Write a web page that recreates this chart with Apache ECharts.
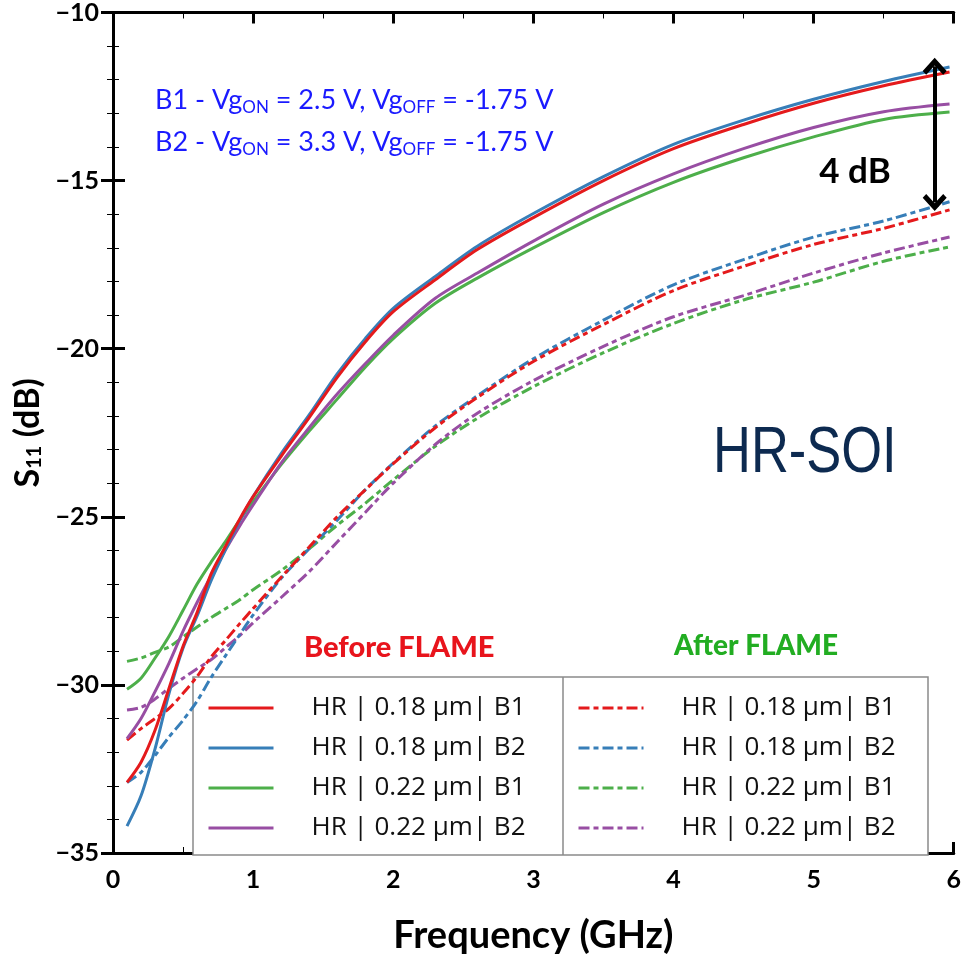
<!DOCTYPE html>
<html>
<head>
<meta charset="utf-8">
<script src="https://cdn.jsdelivr.net/npm/echarts@6/dist/echarts.min.js"></script>
<style>
  html, body { margin: 0; padding: 0; background: #fff; }
  #chart { width: 964px; height: 960px; }
</style>
</head>
<body>
<div id="chart"></div>
<script>
// frequency points (GHz)
var freq = [0.1, 0.2, 0.3, 0.4, 0.5, 0.6, 0.7, 0.8, 0.9, 1.0, 1.2, 1.4, 1.6, 1.8, 2.0, 2.3, 2.6, 3.0, 3.5, 4.0, 4.5, 5.0, 5.5, 5.97];

// S11 (dB), before FLAME (solid)
var before18B1 = [-32.9, -32.3, -31.35, -30.1, -28.85, -27.85, -26.7, -25.9, -25.1, -24.4, -23.2, -22.05, -20.85, -19.8, -18.9, -17.95, -17.05, -16.1, -15.0, -14.05, -13.33, -12.7, -12.18, -11.77];
var before18B2 = [-34.2, -33.3, -31.9, -30.25, -28.9, -27.95, -26.9, -26.0, -25.15, -24.4, -23.12, -21.97, -20.75, -19.7, -18.8, -17.85, -16.95, -15.98, -14.88, -13.92, -13.2, -12.58, -12.05, -11.62];
var before22B1 = [-30.13, -29.8, -29.2, -28.55, -27.78, -27.0, -26.35, -25.75, -25.12, -24.55, -23.45, -22.45, -21.5, -20.55, -19.7, -18.65, -17.9, -17.0, -15.95, -15.05, -14.32, -13.7, -13.18, -12.96];
var before22B2 = [-31.6, -31.0, -30.2, -29.35, -28.4, -27.55, -26.75, -26.0, -25.3, -24.65, -23.4, -22.35, -21.35, -20.45, -19.6, -18.5, -17.75, -16.8, -15.7, -14.8, -14.05, -13.42, -12.95, -12.72];

// S11 (dB), after FLAME (dashed)
var after18B1 = [-31.64, -31.3, -31.0, -30.7, -30.25, -29.75, -29.17, -28.69, -28.2, -27.73, -26.8, -25.9, -25.0, -24.2, -23.42, -22.35, -21.45, -20.38, -19.28, -18.27, -17.55, -16.9, -16.42, -15.87];
var after18B2 = [-32.9, -32.6, -32.1, -31.55, -31.05, -30.48, -29.78, -29.15, -28.53, -27.92, -26.83, -25.95, -25.1, -24.2, -23.4, -22.3, -21.4, -20.3, -19.15, -18.1, -17.35, -16.68, -16.2, -15.63];
var after22B1 = [-29.3, -29.2, -29.03, -28.87, -28.57, -28.28, -28.0, -27.74, -27.48, -27.17, -26.6, -25.95, -25.25, -24.6, -23.9, -22.9, -22.07, -21.13, -20.12, -19.25, -18.55, -18.02, -17.4, -16.97];
var after22B2 = [-30.75, -30.67, -30.42, -30.1, -29.8, -29.52, -29.25, -28.9, -28.55, -28.15, -27.4, -26.63, -25.75, -24.87, -24.0, -22.85, -21.92, -20.95, -19.93, -19.05, -18.42, -17.75, -17.15, -16.68];

var legendLabels = ['HR | 0.18 \u00b5m| B1', 'HR | 0.18 \u00b5m| B2', 'HR | 0.22 \u00b5m| B1', 'HR | 0.22 \u00b5m| B2'];
var beforeNames = ['b18B1', 'b18B2', 'b22B1', 'b22B2'];
var afterNames = ['a18B1', 'a18B2', 'a22B1', 'a22B2'];
var colors = ['#e41a1c', '#377eb8', '#4daf4a', '#984ea3'];

var FONT = 'Lato, "Open Sans", sans-serif';
var LEGEND_FONT = '"Open Sans", Lato, sans-serif';

function pairs(ys) {
    return freq.map(function (f, i) { return [f, ys[i]]; });
}

var labelOf = {};
beforeNames.forEach(function (n, i) { labelOf[n] = legendLabels[i]; });
afterNames.forEach(function (n, i) { labelOf[n] = legendLabels[i]; });

var beforeData = [before18B1, before18B2, before22B1, before22B2];
var afterData = [after18B1, after18B2, after22B1, after22B2];

// draw order: green, purple, blue, red (red on top)
var order = [2, 3, 1, 0];
var series = [];
order.forEach(function (i) {
    series.push({
        name: afterNames[i],
        type: 'line',
        data: pairs(afterData[i]),
        showSymbol: false,
        symbol: 'none',
        smooth: 0.3,
        color: colors[i],
        lineStyle: { width: 3, type: [11, 4, 5, 4] }
    });
});
order.forEach(function (i) {
    series.push({
        name: beforeNames[i],
        type: 'line',
        data: pairs(beforeData[i]),
        showSymbol: false,
        symbol: 'none',
        smooth: 0.3,
        color: colors[i],
        lineStyle: { width: 3 }
    });
});

// double arrow marking the 4 dB gap
var chevron = 'path://M0,0 L12,12 L8.5,15.5 L0,7 L-8.5,15.5 L-12,12 Z';
series[series.length - 1].markLine = {
    silent: true,
    symbol: [chevron, chevron],
    symbolSize: [24, 17],
    label: { show: false },
    lineStyle: { color: '#000', width: 4, type: 'solid' },
    data: [[{ coord: [5.864, -11.6] }, { coord: [5.864, -15.65] }]]
};

var axisLineStyle = { lineStyle: { color: '#000', width: 3 } };

function legendOf(names, left) {
    return {
        data: names,
        orient: 'vertical',
        left: left,
        top: 695,
        padding: 0,
        itemGap: 14,
        itemWidth: 65,
        itemHeight: 14,
        itemStyle: { opacity: 0, borderWidth: 0 },
        lineStyle: { width: 3 },
        formatter: function (n) { return labelOf[n]; },
        textStyle: { fontFamily: LEGEND_FONT, fontSize: 26, color: '#111', lineHeight: 24, padding: [0, 0, 0, 33] }
    };
}

var myChart = echarts.init(document.getElementById('chart'));
var option = {
    animation: false,
    backgroundColor: '#fff',
    grid: { left: 113, right: 7, top: 12, bottom: 105 },
    legend: [legendOf(beforeNames, 207), legendOf(afterNames, 577)],
    xAxis: [{
        type: 'value',
        min: 0,
        max: 6,
        interval: 1,
        name: 'Frequency (GHz)',
        nameLocation: 'middle',
        nameGap: 64,
        nameTextStyle: { fontFamily: FONT, fontWeight: 'bold', fontSize: 38, color: '#000' },
        axisLine: axisLineStyle,
        axisTick: { inside: true, length: 11, lineStyle: { color: '#000', width: 3 } },
        minorTick: { show: true, splitNumber: 2, length: 6, lineStyle: { color: '#000', width: 1 } },
        splitLine: { show: false },
        axisLabel: { fontFamily: FONT, fontWeight: 'bold', fontSize: 25, color: '#000', margin: 14 }
    }, {
        type: 'value',
        position: 'top',
        min: 0,
        max: 6,
        interval: 1,
        axisLine: axisLineStyle,
        axisTick: { inside: true, length: 11, lineStyle: { color: '#000', width: 3 } },
        minorTick: { show: true, splitNumber: 2, length: 6, lineStyle: { color: '#000', width: 1 } },
        splitLine: { show: false },
        axisLabel: { show: false }
    }],
    yAxis: [{
        type: 'value',
        min: -35,
        max: -10,
        interval: 5,
        name: 'S{sub|11} (dB)',
        nameLocation: 'middle',
        nameGap: 64,
        nameRotate: 90,
        nameTextStyle: {
            fontFamily: FONT, fontWeight: 'bold', fontSize: 34, color: '#000',
            rich: { sub: { fontFamily: FONT, fontWeight: 'bold', fontSize: 20, color: '#000', verticalAlign: 'bottom', lineHeight: 20 } }
        },
        axisLine: axisLineStyle,
        axisTick: { inside: true, length: 12, lineStyle: { color: '#000', width: 3 } },
        minorTick: { show: true, splitNumber: 5, length: 6, lineStyle: { color: '#000', width: 1 } },
        splitLine: { show: false },
        axisLabel: {
            fontFamily: FONT, fontWeight: 'bold', fontSize: 25, color: '#000', margin: 14,
            formatter: function (v) { return v < 0 ? '\u2212' + Math.abs(v) : String(v); }
        }
    }, {
        type: 'value',
        position: 'right',
        min: -35,
        max: -10,
        interval: 5,
        axisLine: axisLineStyle,
        axisTick: { inside: true, length: 12, lineStyle: { color: '#000', width: 3 } },
        minorTick: { show: true, splitNumber: 5, length: 6, lineStyle: { color: '#000', width: 1 } },
        splitLine: { show: false },
        axisLabel: { show: false }
    }],
    graphic: [
        // legend frame with divider
        { type: 'rect', z: 1, shape: { x: 193, y: 677, width: 735, height: 178 }, style: { fill: '#fff', stroke: '#8a8a8a', lineWidth: 1.5 } },
        { type: 'line', z: 2, shape: { x1: 563, y1: 677, x2: 563, y2: 855 }, style: { stroke: '#8a8a8a', lineWidth: 1.5 } },
        { type: 'text', z: 5, x: 304, y: 648, style: { text: 'Before FLAME', font: '900 29px ' + FONT, fill: '#e8141c', verticalAlign: 'middle' } },
        { type: 'text', z: 5, x: 674, y: 646, style: { text: 'After FLAME', font: '900 28px ' + FONT, fill: '#22ad22', verticalAlign: 'middle' } },
        {
            type: 'text', z: 5, x: 155, y: 100,
            style: {
                text: '{m|B1 - Vg}{s|ON}{m| = 2.5 V, Vg}{s|OFF}{m| = -1.75 V}',
                verticalAlign: 'middle',
                rich: {
                    m: { fontFamily: FONT, fontSize: 27, fill: '#1a1aff', lineHeight: 32 },
                    s: { fontFamily: FONT, fontSize: 17, fill: '#1a1aff', lineHeight: 15, verticalAlign: 'bottom' }
                }
            }
        },
        {
            type: 'text', z: 5, x: 155, y: 142,
            style: {
                text: '{m|B2 - Vg}{s|ON}{m| = 3.3 V, Vg}{s|OFF}{m| = -1.75 V}',
                verticalAlign: 'middle',
                rich: {
                    m: { fontFamily: FONT, fontSize: 27, fill: '#1a1aff', lineHeight: 32 },
                    s: { fontFamily: FONT, fontSize: 17, fill: '#1a1aff', lineHeight: 15, verticalAlign: 'bottom' }
                }
            }
        },
        { type: 'text', z: 5, x: 855, y: 172, style: { text: '4 dB', font: 'bold 35px ' + FONT, fill: '#000', align: 'center', verticalAlign: 'middle' } },
        { type: 'text', z: 5, x: 713, y: 454, scaleX: 0.82, style: { text: 'HR-SOI', font: '64px "Liberation Sans", Arial, sans-serif', fill: '#0d2a50', verticalAlign: 'middle' } }
    ],
    series: series
};
myChart.setOption(option);
</script>
</body>
</html>
